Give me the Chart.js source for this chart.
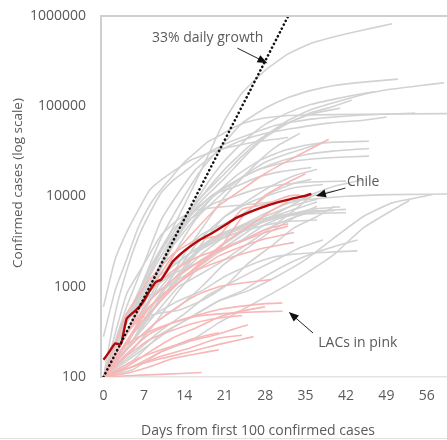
<!DOCTYPE html>
<html>
<head>
<meta charset="utf-8">
<title>Confirmed cases</title>
<script src="https://cdn.jsdelivr.net/npm/chart.js@4.4.1/dist/chart.umd.min.js"></script>
<style>
  html, body { margin: 0; padding: 0; background: #fff; }
  #wrap { width: 447px; height: 440px; position: relative; }
</style>
</head>
<body>
<div id="wrap"><canvas id="chart"></canvas></div>
<script>
'use strict';

/* ---- DATA ------------------------------------------------- */
const xTicks = [0, 7, 14, 21, 28, 35, 42, 49, 56];
const yTicks = [100, 1000, 10000, 100000, 1000000];

// other countries, [day, confirmed cases]
const grayLines = [
  [[0,100],[4,300],[7,1000],[10,2500],[14,8000],[17,20000],[21,70000],[24,140000],[28,250000],[32,380000],[36,500000],[40,590000],[45,700000],[50,820000]],
  [[0,100],[4,400],[7,1200],[10,3500],[14,10000],[17,20000],[21,40000],[24,65000],[28,95000],[32,125000],[36,150000],[40,170000],[45,185000],[51,200000]],
  [[0,100],[4,450],[7,1100],[10,2500],[14,6000],[17,10000],[21,18000],[24,28000],[28,47000],[32,70000],[36,92000],[40,110000],[45,135000],[50,155000],[55,170000],[59,182000]],
  [[0,100],[5,400],[8,1000],[12,3500],[15,7000],[18,14000],[21,25000],[25,45000],[28,63000],[32,85000],[36,105000],[40,120000],[44,135000],[47,145000]],
  [[0,100],[5,300],[8,900],[11,2200],[14,5000],[17,9000],[21,16000],[25,30000],[28,45000],[32,65000],[36,85000],[40,100000],[43,117000]],
  [[0,100],[5,400],[9,1400],[12,3300],[15,6600],[18,12000],[21,20000],[25,35000],[29,52000],[33,70000],[37,85000],[41,95000]],
  [[0,100],[2,500],[4,1500],[6,3500],[8,6500],[10,11000],[12,15000],[15,21000],[18,30000],[21,38000],[25,48000],[30,62000],[36,72000],[45,80000],[54,84000]],
  [[0,100],[4,600],[7,1800],[10,5500],[13,11000],[16,20000],[20,32000],[24,42000],[28,50000],[33,57000],[39,65000],[45,70000],[49,76000]],
  [[0,280],[2,900],[4,2000],[6,4500],[8,8000],[10,12000],[12,17000],[14,24000],[16,31000],[18,40000],[20,47000],[23,60000],[26,70000],[30,77000],[35,80000],[45,81500],[62,83000]],
  [[0,100],[6,300],[10,800],[14,2300],[18,5400],[21,10000],[24,16000],[27,25000],[30,36000],[34,50000]],
  [[0,100],[4,300],[8,900],[12,2800],[15,4900],[19,10000],[23,17000],[27,25000],[31,32000],[35,37000],[40,40000],[46,41000]],
  [[0,100],[4,400],[8,1100],[12,3000],[15,5500],[19,10000],[23,15000],[27,20000],[31,25000],[35,29000],[40,32000],[46,34000]],
  [[0,100],[4,300],[8,1000],[12,3000],[15,6000],[19,10500],[23,15000],[27,20000],[31,23500],[35,25500],[40,27000],[46,28000]],
  [[0,100],[5,300],[9,900],[13,2800],[16,5600],[20,10000],[24,16500],[28,24000],[32,30000],[36,36000],[38,40000]],
  [[0,100],[5,250],[9,700],[13,1400],[17,3000],[21,6000],[25,9000],[29,13000],[33,17000],[37,20000]],
  [[0,100],[4,450],[8,1600],[12,4300],[15,6400],[19,10500],[23,13000],[27,16600],[31,19000],[36,21000]],
  [[0,100],[4,400],[8,1300],[12,3600],[15,5600],[19,8300],[23,10200],[27,12300],[31,13600],[36,14500],[42,14800]],
  [[0,100],[5,300],[9,1000],[13,2100],[17,3800],[21,5000],[25,7000],[29,11000],[33,14000],[36,15500]],
  [[0,100],[4,300],[8,1000],[12,1400],[16,1800],[20,2500],[24,3700],[28,5500],[32,7600],[36,10500],[40,13000],[45,15300]],
  [[0,100],[5,250],[9,700],[13,1600],[17,3500],[21,6000],[25,8400],[29,10500],[33,12500],[38,13600]],
  [[0,100],[4,830],[7,1770],[10,3740],[13,5620],[16,7040],[19,7510],[25,8160],[30,8800],[35,9240],[42,10060],[50,10500],[62,10700]],
  [[0,100],[5,150],[10,300],[15,450],[20,700],[25,900],[30,1300],[35,2000],[40,3500],[45,6000],[50,8500],[57,10500]],
  [[0,100],[5,120],[10,190],[15,250],[20,400],[25,600],[30,900],[35,1400],[40,2300],[45,4500],[53,9100]],
  [[0,100],[5,250],[9,500],[13,1000],[17,1400],[21,2000],[25,3000],[29,4500],[33,7000],[36,10000],[40,11600]],
  [[0,100],[4,500],[8,800],[12,1100],[16,1600],[20,2400],[24,3300],[28,4900],[32,6200],[36,7200],[41,7700]],
  [[0,100],[4,500],[8,1100],[12,1700],[16,2600],[20,3800],[24,4600],[28,5700],[32,6400],[36,6900],[42,7200]],
  [[0,100],[5,250],[9,600],[13,1300],[17,2800],[21,4000],[25,5100],[29,5900],[33,6300],[37,6500],[42,6600]],
  [[0,100],[5,250],[9,600],[13,1300],[17,2300],[21,3600],[25,5000],[29,6400],[33,8000],[37,9300]],
  [[0,100],[4,200],[8,500],[12,1000],[16,2300],[20,3600],[24,4400],[28,5400],[32,6300],[36,6700]],
  [[0,100],[4,400],[8,900],[12,1700],[16,2600],[20,3400],[24,4100],[28,4800],[32,5300],[37,5500]],
  [[0,100],[4,500],[8,900],[12,1400],[16,2400],[20,3500],[24,4800],[28,6500],[32,8400],[36,10000]],
  [[0,100],[5,300],[9,600],[13,1300],[17,2000],[21,2700],[25,3500],[29,4600],[33,5900],[37,7100]],
  [[0,100],[5,400],[9,500],[13,550],[17,700],[21,1000],[25,1800],[29,2800],[33,4500],[37,6000],[40,7800]],
  [[0,100],[5,300],[9,500],[13,700],[17,900],[21,1300],[25,1700],[29,2100],[33,2300],[38,2400],[44,2500]],
  [[0,100],[4,150],[8,230],[12,350],[16,500],[20,700],[24,900],[28,1300],[32,1800],[36,2300],[40,2800],[44,3300]],
  [[0,100],[6,200],[10,330],[14,500],[18,800],[22,1100],[26,1500],[30,2000],[34,2700],[38,3300]],
  [[0,100],[5,200],[9,400],[13,600],[17,1000],[21,1800],[25,2700],[29,4100],[33,5800],[37,7800]],
  [[0,100],[4,300],[8,700],[12,1400],[16,2400],[20,3300],[24,4200],[28,5300],[32,6100],[36,6700],[40,7000]],
  [[0,100],[5,200],[9,400],[13,900],[17,1800],[21,3000],[25,4400],[29,5900],[33,7200],[37,8700]],
  [[0,600],[2,2000],[4,4000],[6,7000],[8,11800],[11,17000],[15,25000],[20,33000],[26,40000],[32,45000]]
];

// Latin America & Caribbean
const pinkLines = [
  [[0,100],[4,300],[8,900],[12,2200],[16,4300],[20,7900],[24,12000],[28,18000],[32,25000],[36,34000],[39,43000]],
  [[0,100],[4,300],[8,600],[12,1000],[16,1600],[20,2600],[24,5900],[28,10300],[32,14400],[35,17800]],
  [[0,100],[4,500],[8,1200],[12,2300],[16,3300],[20,3700],[24,7200],[28,8200],[32,10100],[34,10400]],
  [[0,100],[5,300],[9,600],[13,1100],[17,1900],[21,3100],[25,4600],[29,6900],[32,8800]],
  [[0,100],[4,300],[8,700],[12,1200],[16,1800],[20,2500],[24,3200],[28,4000],[32,4700]],
  [[0,100],[4,300],[8,900],[12,1500],[16,2100],[20,2600],[24,3200],[28,4300],[32,5000]],
  [[0,100],[4,230],[8,600],[12,1000],[16,1500],[20,2200],[24,2800],[28,3400],[33,4000]],
  [[0,100],[4,250],[8,600],[12,1000],[16,1500],[20,1900],[24,2300],[28,2700],[33,3100]],
  [[0,100],[4,200],[8,350],[12,550],[16,800],[20,1000],[24,1100],[29,1200]],
  [[0,100],[4,130],[8,190],[12,270],[16,350],[20,460],[24,540],[28,600]],
  [[0,100],[4,230],[8,320],[12,400],[16,470],[20,500],[24,520],[28,530],[31,535]],
  [[0,100],[4,180],[8,300],[12,400],[16,480],[20,560],[24,610],[28,650],[31,660]],
  [[0,100],[4,170],[8,260],[12,330],[16,400],[20,450],[24,480]],
  [[0,100],[5,130],[10,160],[15,190],[20,230],[26,280]],
  [[0,100],[4,110],[8,130],[12,160],[16,180],[20,200]],
  [[0,100],[5,130],[10,190],[15,260],[20,310]],
  [[0,100],[5,104],[10,107],[17,112]],
  [[0,100],[5,150],[10,200],[15,250],[20,300],[25,380]],
  [[0,100],[5,130],[10,170],[15,210],[20,270],[24,290]]
];

const chileLine = [[0,155],[1,190],[2,235],[3,230],[4,440],[5,510],[6,580],[7,700],[8,900],[9,1120],[10,1200],[11,1500],[12,1900],[13,2200],[14,2500],[15,2800],[17,3400],[19,4000],[21,4800],[23,5800],[25,6600],[27,7400],[29,8200],[31,8900],[33,9600],[35,10200],[36,10700]];

// 33% daily growth reference, read as its two ends
const growthLine = [[0,100],[32,1000000]];

/* ---- ANNOTATIONS (data units) ----------------------------- */
const notes = [
  { text: '33% daily growth', at: [8.4, 570000], from: [23.2, 440000], to: [28.4, 300000] },
  { text: 'Chile',            at: [42.2, 14500], from: [41.9, 12400],  to: [36.8, 10100] },
  { text: 'LACs in pink',     at: [37.2, 238],   from: [36.3, 307],    to: [32.1, 525] }
];

/* ---- HELPERS ---------------------------------------------- */
const FONT = "'Open Sans', sans-serif";
const TEXT = '#5a5a5a';

const toXY = line => line.map(p => ({ x: p[0], y: p[1] }));

function arrow(ctx, x1, y1, x2, y2) {
  const ang = Math.atan2(y2 - y1, x2 - x1);
  const len = 10, half = 4;
  ctx.beginPath();
  ctx.moveTo(x1, y1);
  ctx.lineTo(x2 - Math.cos(ang) * len * 0.8, y2 - Math.sin(ang) * len * 0.8);
  ctx.stroke();
  ctx.beginPath();
  ctx.moveTo(x2, y2);
  ctx.lineTo(x2 - Math.cos(ang) * len - Math.sin(ang) * half, y2 - Math.sin(ang) * len + Math.cos(ang) * half);
  ctx.lineTo(x2 - Math.cos(ang) * len + Math.sin(ang) * half, y2 - Math.sin(ang) * len - Math.cos(ang) * half);
  ctx.closePath();
  ctx.fill();
}

/* Frame, axis titles and the arrows */
const decor = {
  id: 'decor',
  afterDatasetsDraw(chart) {
    const { ctx, chartArea: a, scales: { x, y } } = chart;
    ctx.save();
    // top frame line
    ctx.strokeStyle = '#cfcfcf';
    ctx.lineWidth = 2;
    ctx.beginPath();
    ctx.moveTo(a.left, a.top);
    ctx.lineTo(a.right, a.top);
    ctx.stroke();

    ctx.font = '14px ' + FONT;
    ctx.textBaseline = 'middle';
    notes.forEach(n => {
      ctx.fillStyle = TEXT;
      ctx.textAlign = 'left';
      ctx.fillText(n.text, x.getPixelForValue(n.at[0]), y.getPixelForValue(n.at[1]));
      ctx.strokeStyle = '#222';
      ctx.fillStyle = '#111';
      ctx.lineWidth = 1;
      arrow(ctx,
        x.getPixelForValue(n.from[0]), y.getPixelForValue(n.from[1]),
        x.getPixelForValue(n.to[0]), y.getPixelForValue(n.to[1]));
    });
    ctx.restore();
  },
  afterDraw(chart) {
    const { ctx, width, height } = chart;
    ctx.save();
    ctx.fillStyle = TEXT;
    ctx.font = '14px ' + FONT;
    ctx.textAlign = 'center';
    ctx.textBaseline = 'middle';
    ctx.fillText('Days from first 100 confirmed cases', 258, 431);
    ctx.font = '13.5px ' + FONT;
    ctx.translate(18, 183);
    ctx.rotate(-Math.PI / 2);
    ctx.fillText('Confirmed cases (log scale)', 0, 0);
    ctx.restore();
    // faint rule along the bottom edge
    ctx.save();
    ctx.strokeStyle = '#e2e2e2';
    ctx.lineWidth = 1;
    ctx.beginPath();
    ctx.moveTo(0, height - 1.5);
    ctx.lineTo(width, height - 1.5);
    ctx.stroke();
    ctx.restore();
  }
};

/* ---- DATASETS --------------------------------------------- */
const datasets = [];
grayLines.forEach(l => datasets.push({ data: toXY(l), borderColor: '#d2d2d2', borderWidth: 1.6, order: 4 }));
pinkLines.forEach(l => datasets.push({ data: toXY(l), borderColor: '#f7b7b7', borderWidth: 1.6, order: 3 }));
datasets.push({ data: toXY(chileLine), borderColor: '#b20a0a', borderWidth: 2.4, order: 2 });
datasets.push({ data: toXY(growthLine), borderColor: '#111', borderWidth: 2.6, borderDash: [0.1, 4.2], borderCapStyle: 'round', order: 1 });

/* ---- CHART ------------------------------------------------ */
new Chart(document.getElementById('chart'), {
  type: 'line',
  data: { datasets },
  options: {
    responsive: true,
    maintainAspectRatio: false,
    animation: false,
    elements: { point: { radius: 0 }, line: { tension: 0.15, fill: false } },
    layout: { padding: { top: 16, right: 0, left: 0, bottom: 0 } },
    plugins: { legend: { display: false }, tooltip: { enabled: false } },
    scales: {
      x: {
        type: 'linear',
        min: -0.43,
        max: 59.5,
        grid: { display: false, drawTicks: false },
        border: { display: true, color: '#e3e3e3', width: 1.5 },
        afterBuildTicks: s => { s.ticks = xTicks.map(v => ({ value: v })); },
        afterFit: s => { s.height = 63; s.paddingLeft = 0; s.paddingRight = 0; },
        ticks: { padding: 11, color: TEXT, font: { family: FONT, size: 14 }, maxRotation: 0 }
      },
      y: {
        type: 'logarithmic',
        min: 100,
        max: 1000000,
        grid: { display: false, drawTicks: false },
        border: { display: true, color: '#cfcfcf', width: 2 },
        afterBuildTicks: s => { s.ticks = yTicks.map(v => ({ value: v })); },
        afterFit: s => { s.width = 101; s.paddingTop = 0; s.paddingBottom = 0; },
        ticks: { padding: 15, color: TEXT, font: { family: FONT, size: 14 }, callback: v => String(v) }
      }
    }
  },
  plugins: [decor]
});
</script>
</body>
</html>
